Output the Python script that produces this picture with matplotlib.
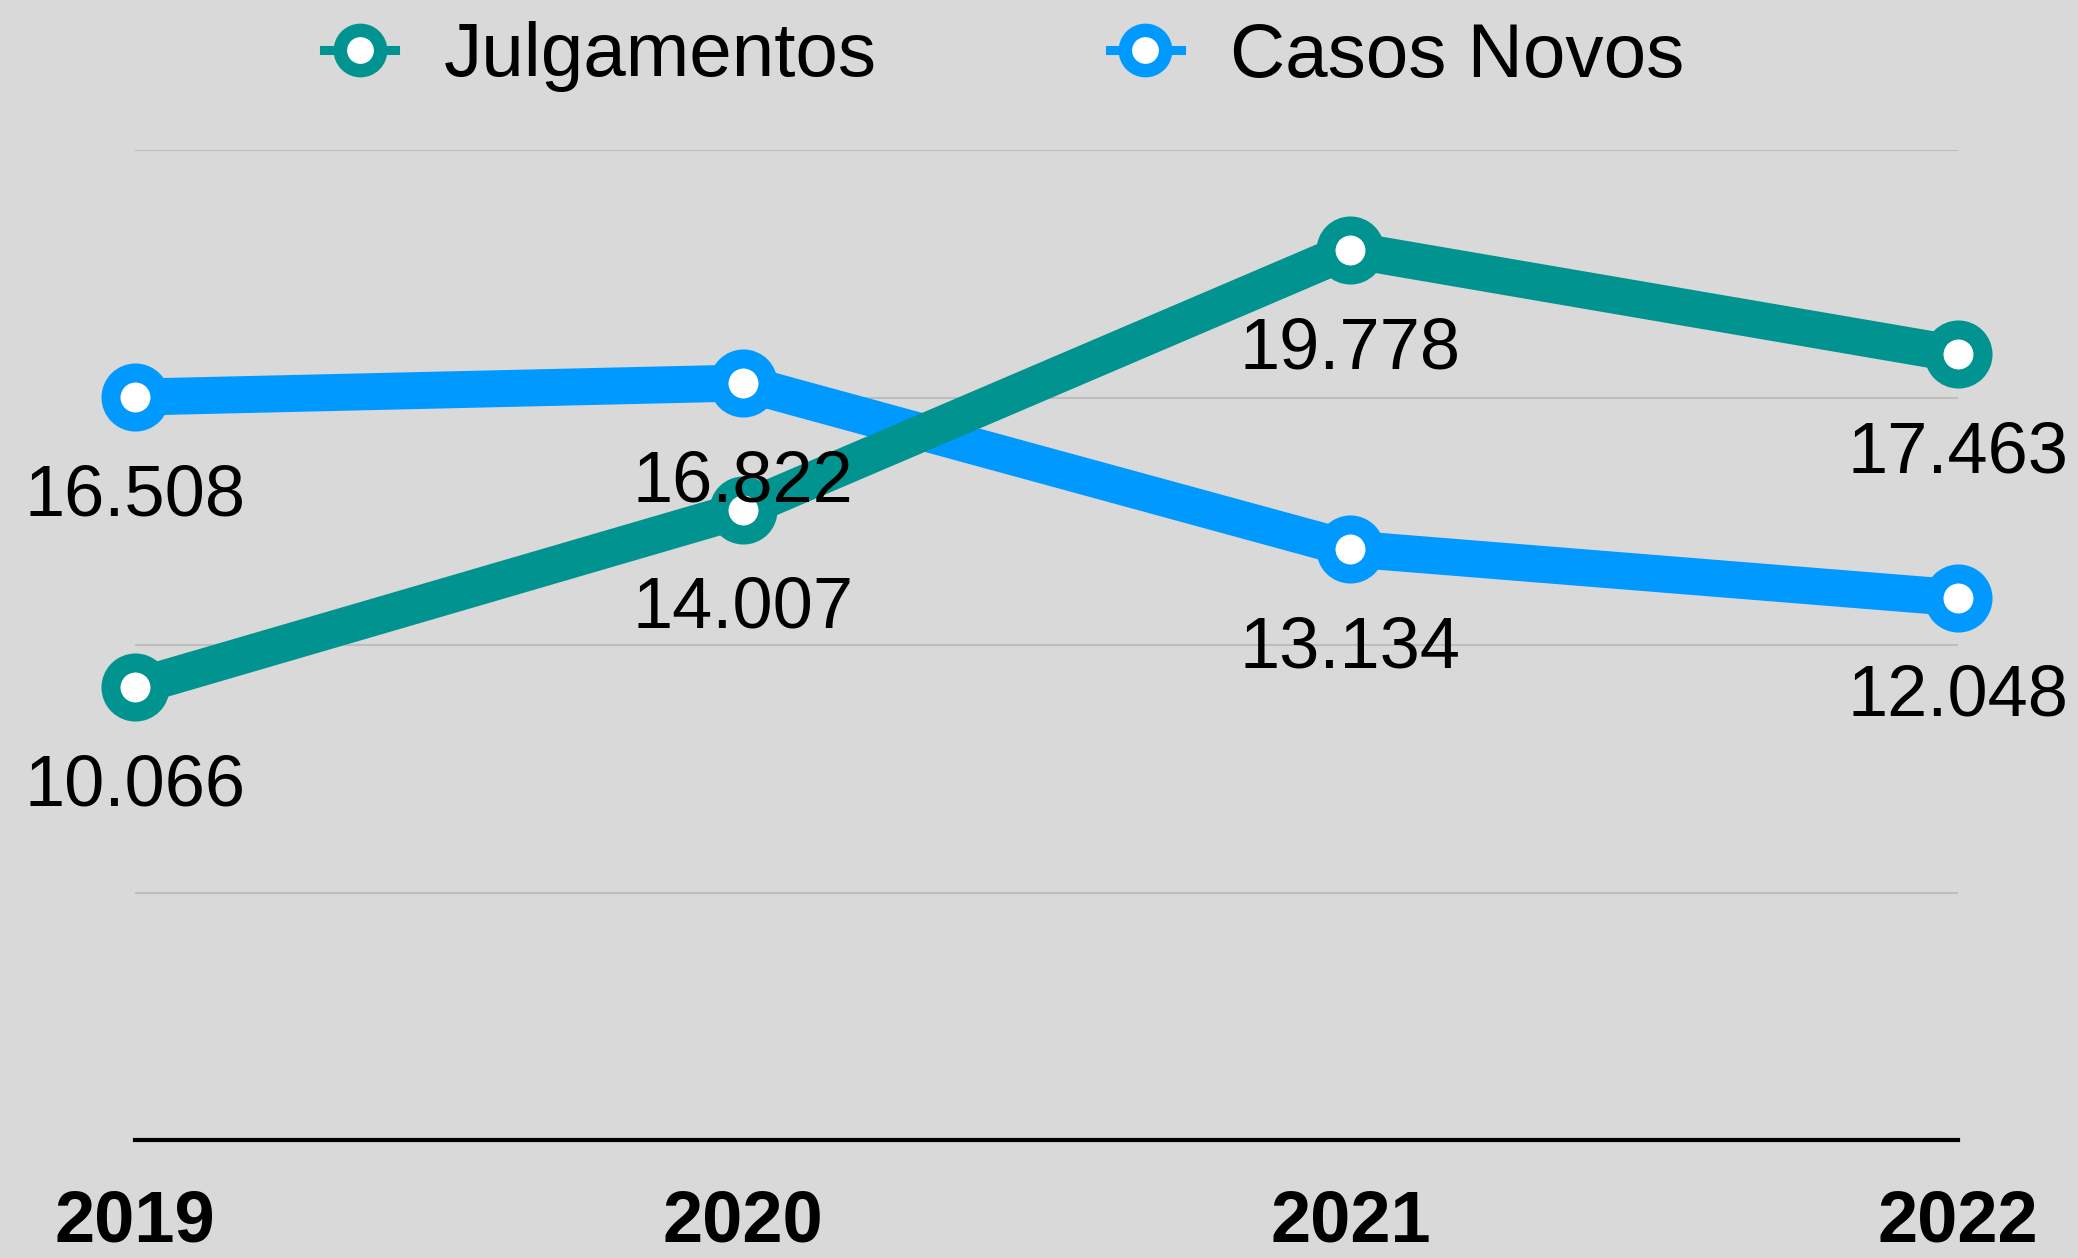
import matplotlib.pyplot as plt
from matplotlib.lines import Line2D

plt.rcParams['font.family'] = ['Liberation Sans', 'DejaVu Sans']

years = [2019, 2020, 2021, 2022]
year_labels = ['2019', '2020', '2021', '2022']
julgamentos = [10066, 14007, 19778, 17463]
casos_novos = [16508, 16822, 13134, 12048]

teal = '#00938F'
blue = '#0099FF'
bg = '#D9D9D9'

fig = plt.figure(figsize=(20.78, 12.58), dpi=100, facecolor=bg)
ax = fig.add_axes([135/2078, 1-1140/1258, (1958-135)/2078, (1140-150)/1258])
ax.set_facecolor(bg)

def fmt(v):
    return '{:,}'.format(v).replace(',', '.')

# casos novos first, julgamentos drawn on top
for vals, col, z in [(casos_novos, blue, 3), (julgamentos, teal, 4)]:
    ax.plot(years, vals, c=col, linewidth=26.6, solid_capstyle='butt',
            marker='o', markersize=35.3, markerfacecolor='white',
            markeredgecolor=col, markeredgewidth=13.7, clip_on=False, zorder=z)
    for x, y in zip(years, vals):
        ax.annotate(fmt(y), (x, y), xytext=(0, -85), textcoords='offset points',
                    ha='center', va='baseline', fontsize=52, color='black', zorder=10,
                    annotation_clip=False)

ax.set_xlim(2019, 2022)
ax.set_ylim(0, 22000)
ax.set_yticks([0, 5500, 11000, 16500, 22000])
ax.set_yticklabels([])
ax.grid(axis='y', color='#BDBDBD', linewidth=1.5)
ax.set_axisbelow(True)
for key, spine in ax.spines.items():
    spine.set_visible(False)
ax.axhline(0, color='black', linewidth=3, zorder=2, clip_on=False)

ax.set_xticks(years)
ax.set_xticklabels(year_labels, fontsize=52, fontweight='bold')
ax.tick_params(axis='x', length=0, pad=35)
ax.tick_params(axis='y', length=0)

# legend
h_j = Line2D([], [], c=teal, linewidth=6.5, marker='o', markersize=29,
             markerfacecolor='white', markeredgecolor=teal, markeredgewidth=9.7)
h_c = Line2D([], [], c=blue, linewidth=6.5, marker='o', markersize=29,
             markerfacecolor='white', markeredgecolor=blue, markeredgewidth=9.7)
fig.legend([h_j, h_c], ['Julgamentos', 'Casos Novos'], ncol=2, frameon=False,
           fontsize=55, loc='center left', bbox_to_anchor=(324/2078, 1-57/1258),
           borderpad=0, borderaxespad=0, handlelength=0.93, handletextpad=0.64,
           columnspacing=3.05)

fig.savefig('out.png', dpi=100, facecolor=bg)
